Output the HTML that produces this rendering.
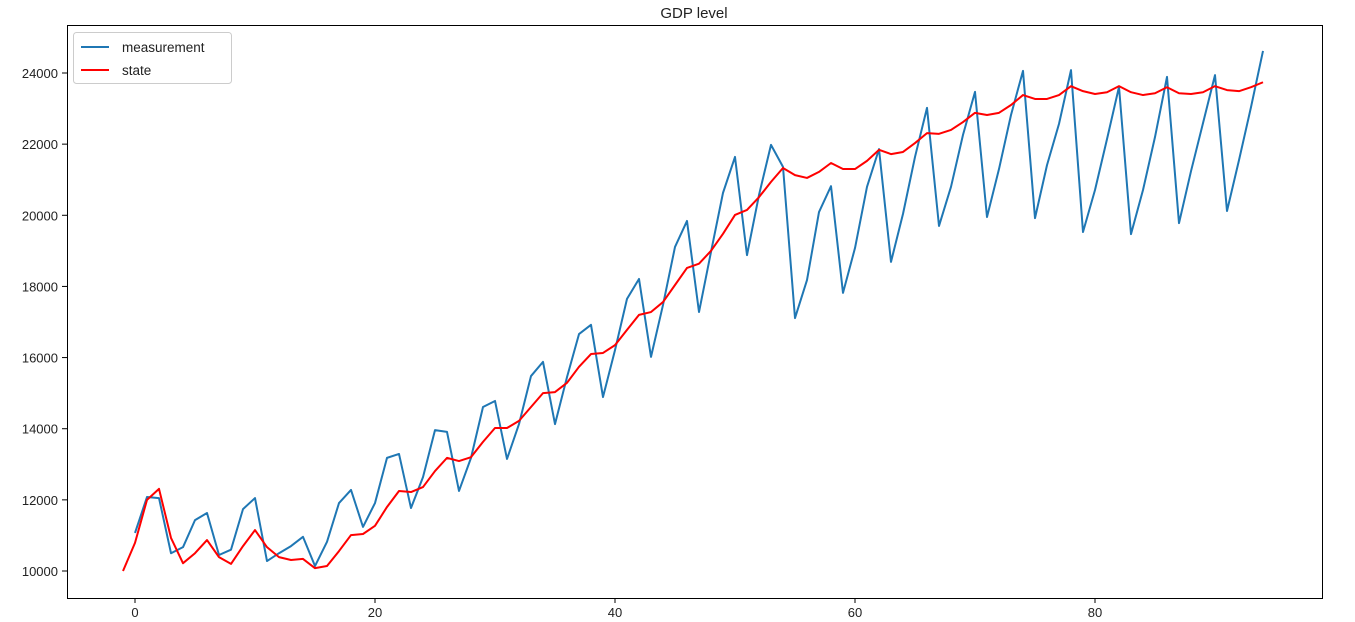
<!DOCTYPE html>
<html><head><meta charset="utf-8"><style>
body{margin:0;background:#fff;font-family:"Liberation Sans","DejaVu Sans",sans-serif}
svg text{font-family:"Liberation Sans","DejaVu Sans",sans-serif;fill:#222}
</style></head><body>
<svg id="chart" width="1355" height="617" xmlns="http://www.w3.org/2000/svg">
<text x="694" y="18" text-anchor="middle" font-size="15">GDP level</text>
<rect x="67.5" y="25.5" width="1255" height="573" fill="none" stroke="#000" stroke-width="1"/>
<g id="axes"></g>
<g id="series"></g>
<g>
<rect x="73.5" y="32.5" width="158" height="51" rx="3" fill="#fff" stroke="#ccc"/>
<line x1="81" y1="47" x2="109" y2="47" stroke="#1f77b4" stroke-width="2"/>
<text x="122" y="52" font-size="13.5">measurement</text>
<line x1="81" y1="70" x2="109" y2="70" stroke="#ff0000" stroke-width="2"/>
<text x="122" y="75" font-size="13.5">state</text>
</g>
</svg>
<script>
const measurement=[11070,12080,12050,10500,10670,11430,11630,10450,10600,11740,12050,10280,10500,10700,10960,10140,10820,11910,12280,11240,11910,13180,13290,11770,12640,13960,13910,12250,13180,14610,14780,13150,14130,15480,15880,14130,15450,16660,16920,14890,16210,17650,18210,16020,17480,19110,19840,17280,18970,20630,21640,18880,20570,21980,21360,17110,18180,20090,20820,17820,19080,20800,21860,18690,20040,21640,23020,19700,20800,22260,23470,19950,21300,22820,24060,19920,21410,22570,24080,19530,20710,22140,23610,19470,20710,22200,23890,19780,21240,22590,23940,20120,21550,23040,24620];
const measurementStart=0;
const state=[10000,10790,12000,12310,10930,10220,10500,10870,10390,10200,10700,11150,10670,10390,10310,10340,10080,10140,10560,11010,11040,11270,11800,12250,12220,12360,12810,13180,13090,13200,13630,14020,14020,14220,14610,15000,15030,15290,15740,16100,16130,16350,16780,17200,17280,17560,18040,18520,18640,19000,19480,20010,20150,20510,20940,21330,21130,21050,21220,21470,21300,21300,21530,21840,21720,21780,22030,22310,22290,22400,22620,22880,22820,22880,23100,23380,23270,23270,23380,23630,23490,23410,23460,23630,23460,23380,23430,23600,23430,23410,23460,23630,23520,23490,23600,23740];
const stateStart=-1;
const xTicks=[0,20,40,60,80];
const yTicks=[10000,12000,14000,16000,18000,20000,22000,24000];
const NS="http://www.w3.org/2000/svg";
function xs(v){return 135+(v-0)*12;}
function ys(v){return 571-(v-10000)*(498/14000);}
const axes=document.getElementById('axes');
xTicks.forEach(t=>{
 const l=document.createElementNS(NS,'line');
 
 
 l.setAttribute('x1',xs(t));l.setAttribute('x2',xs(t));l.setAttribute('y1',598);l.setAttribute('y2',603);l.setAttribute('stroke','#000');
 axes.appendChild(l);
 const tx=document.createElementNS(NS,'text');
 
 
 tx.setAttribute('x',xs(t));tx.setAttribute('y',617);tx.setAttribute('text-anchor','middle');tx.setAttribute('font-size','13');
 tx.textContent=t;axes.appendChild(tx);
});
yTicks.forEach(t=>{
 const l=document.createElementNS(NS,'line');
 
 
 l.setAttribute('x1',62);l.setAttribute('x2',67);l.setAttribute('y1',ys(t));l.setAttribute('y2',ys(t));l.setAttribute('stroke','#000');
 axes.appendChild(l);
 const tx=document.createElementNS(NS,'text');
 
 
 tx.setAttribute('x',58);tx.setAttribute('y',ys(t)+5);tx.setAttribute('text-anchor','end');tx.setAttribute('font-size','13');
 tx.textContent=t;axes.appendChild(tx);
});
const series=document.getElementById('series');
function line(arr,start,color,name){
 const p=document.createElementNS(NS,'polyline');
 
 
 p.setAttribute('points',arr.map((v,i)=>xs(start+i)+','+ys(v)).join(' '));
 p.setAttribute('fill','none');p.setAttribute('stroke',color);p.setAttribute('stroke-width','2');p.setAttribute('stroke-linejoin','round');
 series.appendChild(p);
}
line(measurement,measurementStart,'#1f77b4','measurement-line');
line(state,stateStart,'#ff0000','state-line');
</script>
</body></html>
